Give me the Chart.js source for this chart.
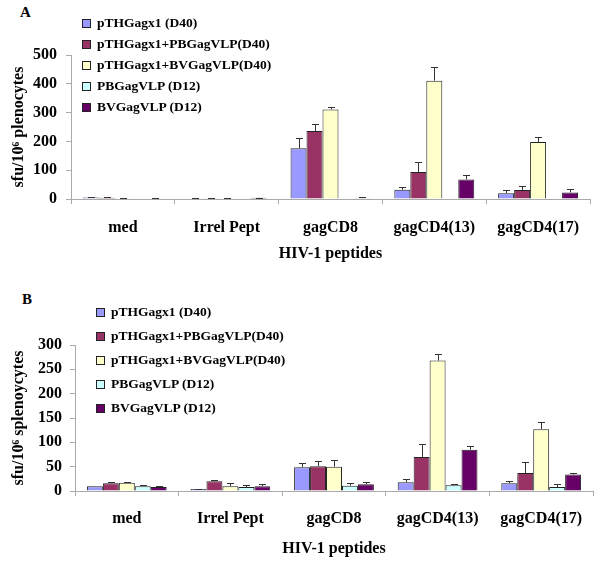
<!DOCTYPE html>
<html>
<head>
<meta charset="utf-8">
<script src="https://cdn.jsdelivr.net/npm/chart.js@4/dist/chart.umd.min.js"></script>
<style>
  body { margin: 0; background: #fff; width: 600px; height: 562px; position: relative; overflow: hidden;
         font-family: 'Liberation Serif', 'Times New Roman', serif; font-weight: bold; }
  .panel { position: absolute; left: 0; }
  .letter { position: absolute; font-size: 15px; font-weight: bold; }
  .legend { position: absolute; font-size: 13.5px; }
  .legend .row { position: absolute; left: 0; white-space: nowrap; display: flex; align-items: center; }
  .legend .sw { display: inline-block; width: 7px; height: 7px; border: 1px solid #222; margin-right: 6px; }
</style>
</head>
<body>
<div class="letter" style="left:20px;top:4px">A</div>
<div class="letter" style="left:22px;top:291px">B</div>
<div class="panel" style="top:0;width:600px;height:270px"><canvas id="chart-a" width="600" height="270"></canvas></div>
<div class="panel" style="top:270px;width:600px;height:292px"><canvas id="chart-b" width="600" height="292"></canvas></div>
<div class="legend" id="legend-a" style="left:82px;top:0"></div>
<div class="legend" id="legend-b" style="left:96px;top:0"></div>
<script>
// ---- datos ----
const CATEGORIAS = ['med', 'Irrel Pept', 'gagCD8', 'gagCD4(13)', 'gagCD4(17)'];
const SERIES = ['pTHGagx1 (D40)', 'pTHGagx1+PBGagVLP(D40)', 'pTHGagx1+BVGagVLP(D40)', 'PBGagVLP (D12)', 'BVGagVLP (D12)'];
const COLORES = ['#9999FF', '#993366', '#FFFFCC', '#CCFFFF', '#660066'];

// Panel A: plenocytes
const A_VALORES = [
  [5, 2, 176, 32, 20],
  [4, 3, 236, 94, 31],
  [3, 2, 311, 411, 198],
  [2, 2, 0, 2, 0],
  [2, 4, 3, 68, 23],
];
const A_ERRORES = [
  [1, 1, 36, 10, 10],
  [2, 2, 24, 33, 13],
  [2, 1, 8, 48, 16],
  [0, 0, 0, 0, 0],
  [1, 1, 3, 15, 13],
];

// Panel B: splenocytes
const B_VALORES = [
  [10, 4, 49, 18, 16],
  [16, 20, 51, 70, 37],
  [17, 10, 50, 268, 127],
  [10, 8, 11, 12, 8],
  [8, 10, 14, 85, 34],
];
const B_ERRORES = [
  [0, 1, 9, 7, 4],
  [2, 2, 11, 27, 22],
  [2, 6, 14, 13, 14],
  [2, 4, 5, 2, 6],
  [2, 4, 4, 7, 4],
];

const FONT = "'Liberation Serif', 'Times New Roman', serif";

// barras de error (solo hacia arriba, con tope)
const errorBars = {
  id: 'errorBars',
  afterDatasetsDraw(chart) {
    const ctx = chart.ctx;
    const y = chart.scales.y;
    ctx.save();
    ctx.strokeStyle = '#333';
    ctx.lineWidth = 1;
    chart.data.datasets.forEach((ds, i) => {
      const meta = chart.getDatasetMeta(i);
      meta.data.forEach((bar, j) => {
        const e = ds.errores[j];
        if (!e) return;
        const top = Math.round(y.getPixelForValue(ds.data[j] + e)) + 0.5;
        const x = Math.round(bar.x) + 0.5;
        ctx.beginPath();
        ctx.moveTo(x, bar.y);
        ctx.lineTo(x, top);
        ctx.moveTo(x - 3.5, top);
        ctx.lineTo(x + 3.5, top);
        ctx.stroke();
      });
    });
    ctx.restore();
  },
};

function crearPanel(id, valores, errores, opts) {
  return new Chart(document.getElementById(id), {
    type: 'bar',
    data: {
      labels: CATEGORIAS,
      datasets: SERIES.map((s, i) => ({
        label: s, data: valores[i], errores: errores[i],
        backgroundColor: COLORES[i], borderColor: '#222', borderWidth: 1,
        categoryPercentage: 0.77, barPercentage: 1,
      })),
    },
    options: {
      responsive: false, animation: false,
      layout: { padding: { top: opts.top, right: opts.right, bottom: 0, left: 0 } },
      plugins: { legend: { display: false }, tooltip: { enabled: false } },
      scales: {
        x: {
          afterFit: s => { s.height = opts.xh; },
          grid: { drawOnChartArea: false, tickLength: 5, color: '#aaa' },
          border: { color: '#aaa' },
          ticks: { color: '#000', padding: opts.xpad, font: { family: FONT, size: 16, weight: 'bold' } },
          title: { display: true, text: 'HIV-1 peptides', color: '#000', padding: { top: 0, bottom: opts.tpad },
                   font: { family: FONT, size: 16, weight: 'bold' } },
        },
        y: {
          min: 0, max: opts.max,
          afterFit: s => { s.width = opts.yw; },
          grid: { drawOnChartArea: false, tickLength: 5, color: '#aaa' },
          border: { color: '#aaa' },
          ticks: { stepSize: opts.step, color: '#000', padding: opts.ypad, font: { family: FONT, size: 16, weight: 'bold' } },
          title: { display: true, text: opts.ytitle, color: '#000', padding: { top: 9, bottom: 0 },
                   font: { family: FONT, size: 16, weight: 'bold' } },
        },
      },
    },
    plugins: [errorBars],
  });
}

function crearLeyenda(id, top, paso) {
  const el = document.getElementById(id);
  SERIES.forEach((s, i) => {
    const row = document.createElement('div');
    row.className = 'row';
    row.style.top = (top + i * paso - 9) + 'px';
    row.style.height = '18px';
    row.innerHTML = `<span class="sw" style="background:${COLORES[i]}"></span><span>${s}</span>`;
    el.appendChild(row);
  });
}

crearPanel('chart-a', A_VALORES, A_ERRORES, {
  top: 55, right: 10, xh: 71, yw: 71, max: 500, step: 100, xpad: 14, ypad: 9, tpad: 7,
  ytitle: 'sfu/10⁶ plenocytes',
});
crearPanel('chart-b', B_VALORES, B_ERRORES, {
  top: 75, right: 7, xh: 71, yw: 75, max: 300, step: 50, xpad: 13, ypad: 8, tpad: 4,
  ytitle: 'sfu/10⁶ splenoycytes',
});

crearLeyenda('legend-a', 23, 21);
crearLeyenda('legend-b', 312, 24);
</script>
</body>
</html>
